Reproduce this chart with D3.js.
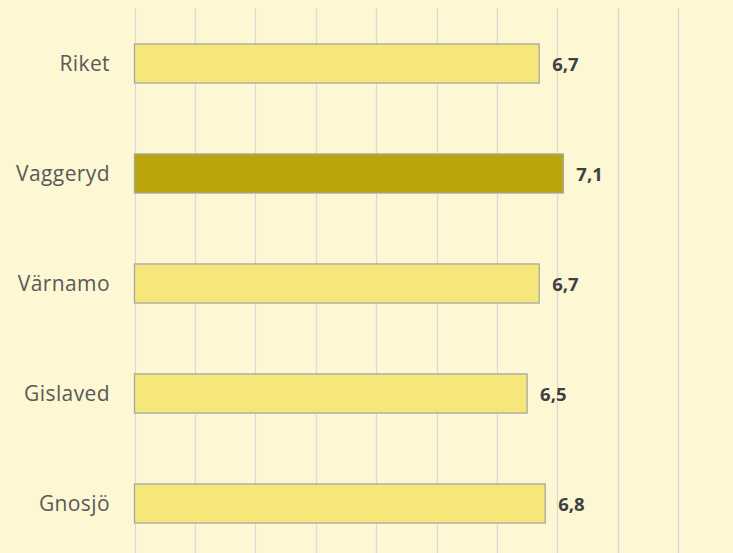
<!DOCTYPE html>
<html><head><meta charset="utf-8">
<script src="https://cdn.jsdelivr.net/npm/d3@7"></script>
<style>html,body{margin:0;padding:0;background:#FDF7D3;}svg{display:block;}</style>
</head><body>
<svg id="c" width="733" height="553"></svg>
<script>
const categories = ["Riket","Vaggeryd","Värnamo","Gislaved","Gnosjö"];
const values = [6.7, 7.1, 6.7, 6.5, 6.8];
const highlight = ["Vaggeryd"];
const labels = ["6,7","7,1","6,7","6,5","6,8"];
const ticks = [0,1,2,3,4,5,6,7,8,9];

const svg = d3.select("#c");
svg.append("rect").attr("width",733).attr("height",553).attr("fill","#FDF7D3");
const x = d3.scaleLinear().domain([0,10]).range([134.5, 738.5]);
const y = d3.scaleBand().domain(categories).range([8.5, 558.5]).paddingInner(0.645).paddingOuter(0.3225);

svg.append("g").selectAll("line").data(ticks).join("line")
  .attr("x1",d=>Math.round(x(d))+0.5).attr("x2",d=>Math.round(x(d))+0.5)
  .attr("y1",8).attr("y2",553).attr("stroke","#D9D9D9").attr("stroke-width",1.2);

svg.append("g").selectAll("rect").data(categories).join("rect")
  .attr("x",x(0)).attr("y",d=>y(d))
  .attr("width",(d,i)=>x(values[i])-x(0)).attr("height",y.bandwidth())
  .attr("fill",d=>highlight.includes(d)?"#BBA40C":"#F5E77A")
  .attr("stroke","#A6A6A6").attr("stroke-width",1.3);

svg.append("g").selectAll("text").data(categories).join("text")
  .attr("x",110).attr("y",d=>y(d)+y.bandwidth()/2).attr("dy","0.36em")
  .attr("text-anchor","end").attr("font-family","'Open Sans', sans-serif")
  .attr("font-size",21).attr("letter-spacing","0.4px").attr("fill","#595959").text(d=>d);

svg.append("g").selectAll("text").data(categories).join("text")
  .attr("x",(d,i)=>x(values[i])+13).attr("y",d=>y(d)+y.bandwidth()/2).attr("dy","0.4em")
  .attr("font-family","'Open Sans', sans-serif").attr("font-weight","bold")
  .attr("font-size",18.5).attr("fill","#404040").text((d,i)=>labels[i]);
</script>
</body></html>
